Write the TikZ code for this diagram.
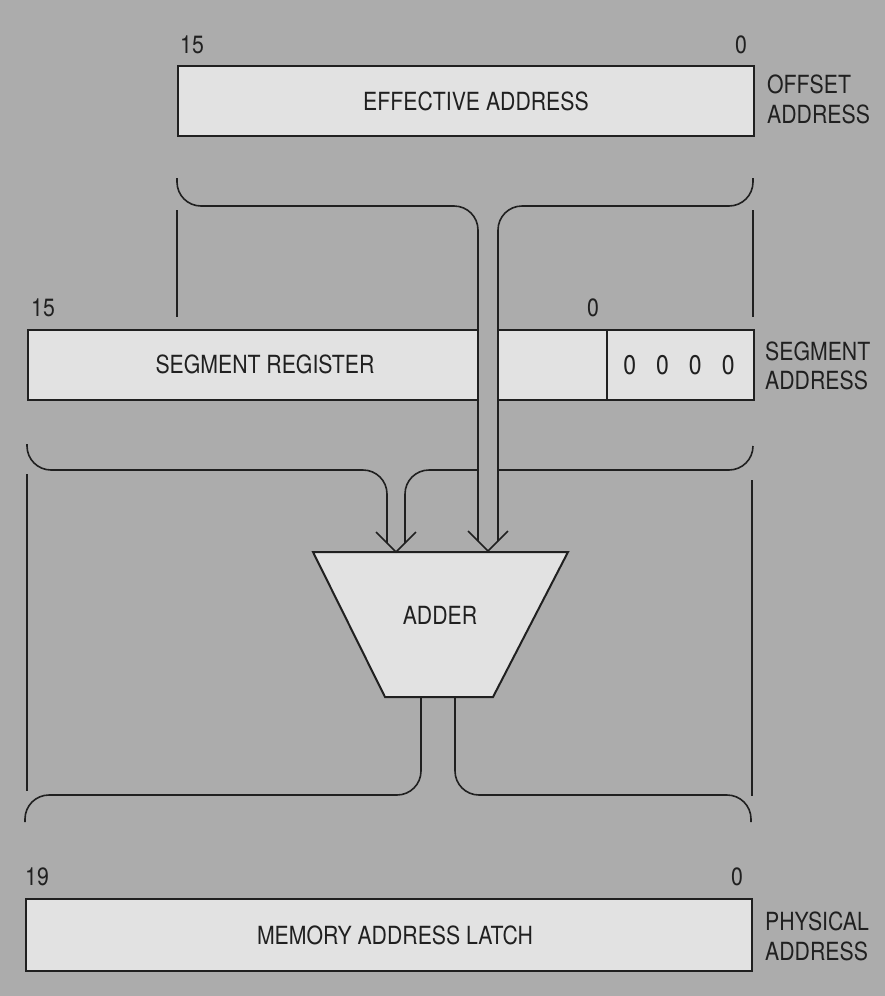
\documentclass[tikz,border=0pt]{standalone}
\usepackage{fontspec}
\setmainfont{TeX Gyre Heros}[FakeStretch=0.85]
\definecolor{bg}{RGB}{172,172,172}
\definecolor{boxfill}{RGB}{226,226,226}
\definecolor{ink}{RGB}{32,32,32}
\begin{document}
\begin{tikzpicture}[x=1pt,y=-1pt,
  regbox/.style={draw=ink,fill=boxfill,line width=2pt,inner sep=0pt,anchor=north west},
  bus/.style={draw=ink,line width=1.6pt,rounded corners=24pt},
  guide/.style={draw=ink,line width=1.4pt},
  chevron/.style={draw=ink,line width=1.6pt,line join=miter},
  lbl/.style={font=\fontsize{25}{30}\selectfont,text=ink,inner sep=0pt},
  side/.style={lbl,anchor=base west}]
\fill[bg] (0,0) rectangle (885,996);
\useasboundingbox (0,0) rectangle (885,996);

% ---- offset (effective address) register
\node[regbox,minimum width=576pt,minimum height=70pt] (ea) at (177,65) {};
\node[lbl] (eatext) at (476,101) {EFFECTIVE ADDRESS};
\node[lbl] (ea15) at (192,45) {15};
\node[lbl] (ea0) at (741,45) {0};
\node[side] (off1) at (767,93) {OFFSET};
\node[side] (off2) at (767,123) {ADDRESS};

% ---- segment register
\node[regbox,minimum width=579pt,minimum height=70pt] (sr) at (27,329) {};
\node[regbox,minimum width=147pt,minimum height=70pt] (zeros) at (606,329) {};
\node[lbl] (srtext) at (265,364) {SEGMENT REGISTER};
\node[lbl,font=\fontsize{27}{30}\selectfont] (zerotext) at (679,365) {0\hspace{20pt}0\hspace{20pt}0\hspace{20pt}0};
\node[lbl] (sr15) at (43,308) {15};
\node[lbl] (sr0) at (593,308) {0};
\node[side] (seg1) at (765,360) {SEGMENT};
\node[side] (seg2) at (765,389) {ADDRESS};

% ---- memory address latch
\node[regbox,minimum width=726pt,minimum height=72pt] (mal) at (25,898) {};
\node[lbl] (maltext) at (395,935) {MEMORY ADDRESS LATCH};
\node[lbl] (mal19) at (37,877) {19};
\node[lbl] (mal0) at (737,877) {0};
\node[side] (phy1) at (765,930) {PHYSICAL};
\node[side] (phy2) at (765,960) {ADDRESS};

% ---- adder
\coordinate (aTL) at (313,552);
\coordinate (aTR) at (568,552);
\coordinate (aBR) at (493,697);
\coordinate (aBL) at (385,697);
\draw[draw=ink,fill=boxfill,line width=2pt] (aTL) -- (aTR) -- (aBR) -- (aBL) -- cycle;
\node[lbl] (adder) at (440,615) {ADDER};

% ---- guide lines
\draw[guide] (177,210) -- (177,317);
\draw[guide] (753,210) -- (753,317);
\draw[guide] (27,474) -- (27,791);
\draw[guide] (752,480) -- (752,796);

% ---- segment bus
\coordinate (sL) at (27,444);
\coordinate (sR) at (753,446);
\coordinate (sTip) at (396,552);
\draw[bus] (sL) -- (27,470) -- (387,470) -- (387,543);
\draw[bus] (405,543) -- (405,470) -- (753,470) -- (sR);
\draw[chevron] (376,532) -- (sTip) -- (416,532);

% ---- offset bus (passes over the segment register)
\fill[bg] (478,220) rectangle (498,541);
\coordinate (oL) at (177,178);
\coordinate (oR) at (753,178);
\coordinate (oTip) at (488,551);
\draw[bus] (oL) -- (177,206) -- (478,206) -- (478,541);
\draw[bus] (498,541) -- (498,206) -- (753,206) -- (oR);
\draw[chevron] (468,531) -- (oTip) -- (508,531);

% ---- output bus to latch
\coordinate (mL) at (25,822);
\coordinate (mR) at (751,822);
\draw[bus] (421,697) -- (421,795) -- (25,795) -- (mL);
\draw[bus] (455,697) -- (455,795) -- (751,795) -- (mR);
\end{tikzpicture}
\end{document}
